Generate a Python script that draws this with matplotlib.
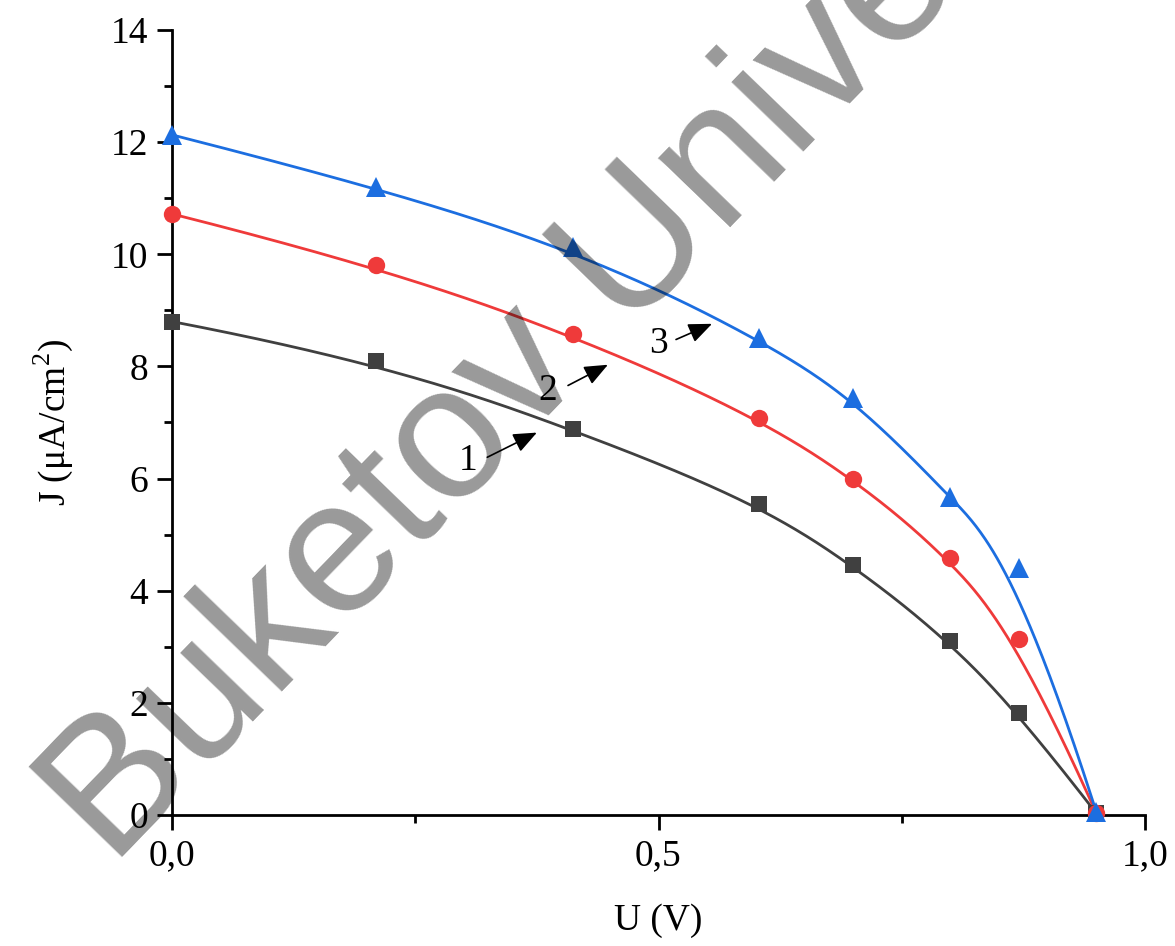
import numpy as np
import matplotlib
matplotlib.use("Agg")
import matplotlib.pyplot as plt
from matplotlib.ticker import MultipleLocator, FuncFormatter

# ---- data ----
U = [0.0, 0.21, 0.4125, 0.603, 0.70, 0.80, 0.87, 0.95]
J1 = [8.80, 8.10, 6.89, 5.55, 4.45, 3.10, 1.82, 0.03]   # curve 1 (black squares)
J2 = [10.72, 9.80, 8.58, 7.08, 6.00, 4.59, 3.13, 0.03]  # curve 2 (red circles)
J3 = [12.13, 11.20, 10.13, 8.50, 7.44, 5.67, 4.40, 0.05]  # curve 3 (blue triangles)
curve_labels = ["1", "2", "3"]
x_ticks = [0.0, 0.5, 1.0]
y_ticks = [0, 2, 4, 6, 8, 10, 12, 14]


def bspline_curve(x, y, k=3, n=600):
    """Clamped uniform B-spline using the data points as control points (Origin-style B-spline line)."""
    P = np.column_stack([x, y]).astype(float)
    m = len(P)
    inner = np.linspace(0, 1, m - k + 1)
    knots = np.concatenate([np.zeros(k), inner, np.ones(k)])
    t = np.linspace(0, 1, n)
    t[-1] = 1 - 1e-12

    def basis(i, p, tt):
        if p == 0:
            return np.where((knots[i] <= tt) & (tt < knots[i + 1]), 1.0, 0.0)
        a = 0.0
        d1 = knots[i + p] - knots[i]
        d2 = knots[i + p + 1] - knots[i + 1]
        if d1 > 0:
            a = a + (tt - knots[i]) / d1 * basis(i, p - 1, tt)
        if d2 > 0:
            a = a + (knots[i + p + 1] - tt) / d2 * basis(i + 1, p - 1, tt)
        return a

    N = np.column_stack([basis(i, k, t) for i in range(m)])
    C = N @ P
    return C[:, 0], C[:, 1]


plt.rcParams['font.family'] = ['Liberation Serif', 'DejaVu Serif']
plt.rcParams['mathtext.fontset'] = 'custom'
plt.rcParams['mathtext.rm'] = 'Liberation Serif'

fig = plt.figure(figsize=(11.75, 9.46), dpi=100)
ax = fig.add_axes([172 / 1175, 1 - 815 / 946, (1145 - 172) / 1175, (815 - 30) / 946])

series = [
    (J1, '#404040', 's', 11.5),
    (J2, '#ef3a3a', 'o', 12.5),
    (J3, '#1c6ee0', '^', 15),
]
for J, col, mk, ms in series:
    cx, cy = bspline_curve(U, J)
    ax.plot(cx, cy, color=col, lw=2.0, zorder=2, clip_on=False)
    ax.plot(U, J, linestyle='none', marker=mk, ms=ms, color=col,
            markeredgewidth=0, zorder=3, clip_on=False)

ax.set_xlim(0, 1.0)
ax.set_ylim(0, 14)
ax.set_xticks(x_ticks)
ax.set_yticks(y_ticks)
ax.xaxis.set_minor_locator(MultipleLocator(0.25))
ax.yaxis.set_minor_locator(MultipleLocator(1))
ax.xaxis.set_major_formatter(FuncFormatter(lambda v, p: f"{v:.1f}".replace('.', ',')))
for s in ['top', 'right']:
    ax.spines[s].set_visible(False)
for s in ['left', 'bottom']:
    ax.spines[s].set_linewidth(2.0)
ax.tick_params(axis='both', which='major', direction='out', length=11, width=2.0,
               labelsize=27, pad=6)
ax.tick_params(axis='both', which='minor', direction='out', length=6, width=2.0)

ax.set_xlabel("U (V)", fontsize=27)
ax.xaxis.set_label_coords(0.5, -0.112)
ax.set_ylabel(r"J ($\mathrm{\mu}$A/cm$^2$)", fontsize=27)
ax.yaxis.set_label_coords(-0.100, 0.5)

# curve number annotations with arrows
ann = [((0.304, 6.32), (0.324, 6.38), (0.375, 6.82)),
       ((0.386, 7.57), (0.407, 7.66), (0.448, 8.03)),
       ((0.5005, 8.41), (0.518, 8.48), (0.555, 8.76))]
for lab, (tpos, tail, head) in zip(curve_labels, ann):
    ax.text(tpos[0], tpos[1], lab, fontsize=27, ha='center', va='center', zorder=5)
    ax.annotate("", xy=head, xytext=tail,
                arrowprops=dict(arrowstyle='-|>,head_length=0.6,head_width=0.25',
                                color='black', lw=1.2,
                                mutation_scale=24, shrinkA=0, shrinkB=0), zorder=5)

# watermark
fig.text(112 / 1175, 1 - 868 / 946, "Buketov University", family=['Liberation Sans'],
         fontsize=137, color='black', alpha=0.4, rotation=46, rotation_mode='anchor',
         ha='left', va='baseline', zorder=10)

fig.savefig("out.png", dpi=100)
